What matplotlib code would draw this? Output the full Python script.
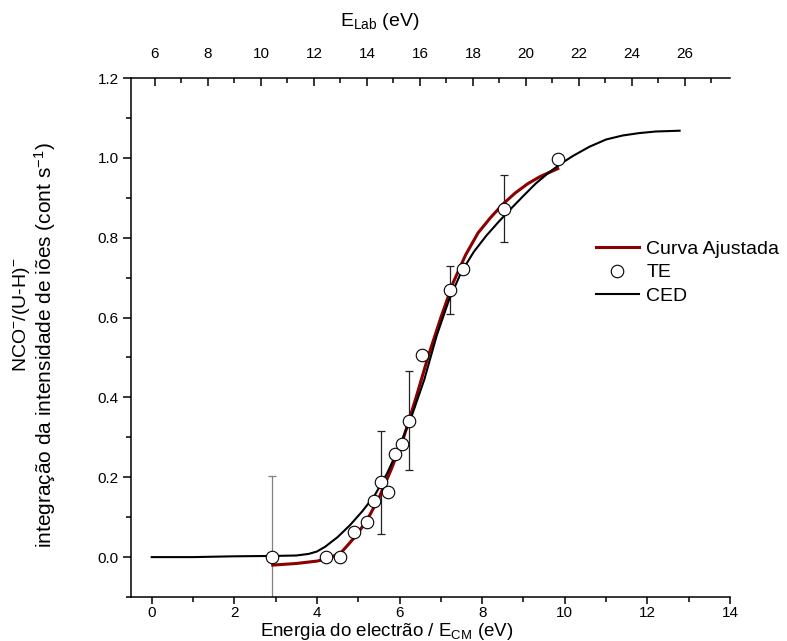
import numpy as np
import matplotlib.pyplot as plt
from matplotlib.ticker import MultipleLocator

plt.rcParams['font.family'] = ['Liberation Sans', 'DejaVu Sans']
plt.rcParams['mathtext.fontset'] = 'custom'
plt.rcParams['mathtext.rm'] = 'Liberation Sans'
plt.rcParams['mathtext.it'] = 'Liberation Sans:italic'
plt.rcParams['mathtext.bf'] = 'Liberation Sans:bold'

# TE points (E_CM in eV, integrated intensity)
te_x = [2.92, 4.23, 4.56, 4.90, 5.22, 5.38, 5.56, 5.73, 5.88, 6.05, 6.22, 6.54, 7.21, 7.53, 8.52, 9.83]
te_y = [0.0, 0.0, 0.0, 0.062, 0.089, 0.140, 0.187, 0.162, 0.259, 0.284, 0.342, 0.506, 0.668, 0.721, 0.873, 0.998]
te_err = [0.204, 0, 0, 0, 0, 0, 0.13, 0, 0, 0, 0.125, 0, 0.06, 0, 0.084, 0]

# fitted curve (Curva Ajustada)
fit_x = [2.93, 3.5, 4.0, 4.3, 4.6, 4.9, 5.2, 5.5, 5.8, 6.1, 6.4, 6.7, 7.0, 7.3, 7.6, 7.9,
         8.2, 8.5, 8.8, 9.1, 9.4, 9.83]
fit_y = [-0.020, -0.016, -0.010, -0.003, 0.013, 0.048, 0.090, 0.148, 0.220, 0.300, 0.400, 0.505,
         0.600, 0.688, 0.757, 0.812, 0.850, 0.884, 0.912, 0.935, 0.953, 0.973]

# CED curve
ced_x = [0.0, 1.0, 2.0, 3.0, 3.5, 3.8, 4.0, 4.2, 4.5, 4.8, 5.1, 5.4, 5.7, 6.0, 6.3, 6.6, 6.9,
         7.2, 7.5, 7.8, 8.1, 8.4, 8.7, 9.0, 9.3, 9.6, 9.9, 10.2, 10.6, 11.0, 11.4, 11.8, 12.2, 12.78]
ced_y = [0.0, 0.0, 0.002, 0.003, 0.004, 0.008, 0.014, 0.026, 0.050, 0.080, 0.115, 0.155, 0.210,
         0.278, 0.355, 0.445, 0.555, 0.645, 0.715, 0.765, 0.805, 0.840, 0.873, 0.905, 0.936,
         0.962, 0.985, 1.005, 1.028, 1.046, 1.056, 1.062, 1.066, 1.068]

# lab-frame axis range matching the CM axis
lab_lim = (5.1, 27.7)

fig = plt.figure(figsize=(7.87, 6.41), dpi=100)
ax = fig.add_axes([0.1665, 0.0686, 0.7611, 0.8097])

ax.plot(fit_x, fit_y, color='#8b0000', lw=2.2, label='Curva Ajustada', zorder=3)

# error bars only where the picture has them
te_x_a = np.array(te_x)
te_y_a = np.array(te_y)
te_err_a = np.array(te_err)
has_err = te_err_a > 0
bar_colors = ['#808080' if x < 3.5 else '#222222' for x in te_x_a[has_err]]
for x, y, e, c in zip(te_x_a[has_err], te_y_a[has_err], te_err_a[has_err], bar_colors):
    ax.errorbar([x], [y], yerr=[e], fmt='none', ecolor=c, elinewidth=0.9,
                capsize=3, capthick=0.9, zorder=2)

ax.plot(te_x, te_y, 'o', ms=9, mfc='white', mec='black', mew=0.8, ls='none',
        label='TE', zorder=5)
ax.plot(ced_x, ced_y, color='black', lw=1.5, label='CED', zorder=4)

ax.set_xlim(-0.5, 14)
ax.set_ylim(-0.1, 1.2)
ax.xaxis.set_major_locator(MultipleLocator(2))
ax.xaxis.set_minor_locator(MultipleLocator(1))
ax.yaxis.set_major_locator(MultipleLocator(0.2))
ax.yaxis.set_minor_locator(MultipleLocator(0.1))
ax.yaxis.set_major_formatter(plt.FormatStrFormatter('%.1f'))
ax.tick_params(which='major', direction='out', length=6, width=1.1, labelsize=11, pad=3)
ax.tick_params(axis='x', which='major', length=5, pad=1.5)
ax.tick_params(which='minor', direction='out', length=3.5, width=1.1)
ax.spines['right'].set_visible(False)
ax.spines['top'].set_visible(False)
for s in ['left', 'bottom']:
    ax.spines[s].set_linewidth(1.1)

ax.set_xlabel('Energia do electrão / E$_{\\mathrm{CM}}$ (eV)', fontsize=13.5)
ax.xaxis.set_label_coords(0.427, -0.047)

# y label is two separate lines in the original
fig.text(22 / 787, 1 - 315 / 641, 'NCO$^{-}$/(U-H)$^{-}$', rotation=90,
         ha='center', va='center', fontsize=14)
fig.text(45 / 787, 1 - 345 / 641,
         'integração da intensidade de iões (cont s$^{-1}$)', rotation=90,
         ha='center', va='center', fontsize=15)

# top axis: lab-frame energy
ax2 = ax.twiny()
ax2.set_xlim(*lab_lim)
ax2.xaxis.set_major_locator(MultipleLocator(2))
ax2.xaxis.set_minor_locator(MultipleLocator(1))
ax2.set_xticks(np.arange(6, 27, 2))
ax2.tick_params(which='major', direction='in', length=6, width=1.1, labelsize=11, pad=12)
ax2.tick_params(which='minor', direction='in', length=3.5, width=1.1)
for s in ['left', 'bottom', 'right']:
    ax2.spines[s].set_visible(False)
ax2.spines['top'].set_linewidth(1.1)
ax2.set_xlabel('E$_{\\mathrm{Lab}}$ (eV)', fontsize=14)
ax2.xaxis.set_label_coords(0.416, 1.1)

ax.legend(loc='center left', bbox_to_anchor=(0.776, 0.625), frameon=False, fontsize=14,
          handlelength=2.2, handletextpad=0.4, labelspacing=0.3, borderpad=0,
          borderaxespad=0, numpoints=1)

fig.savefig('out.png', dpi=100)
